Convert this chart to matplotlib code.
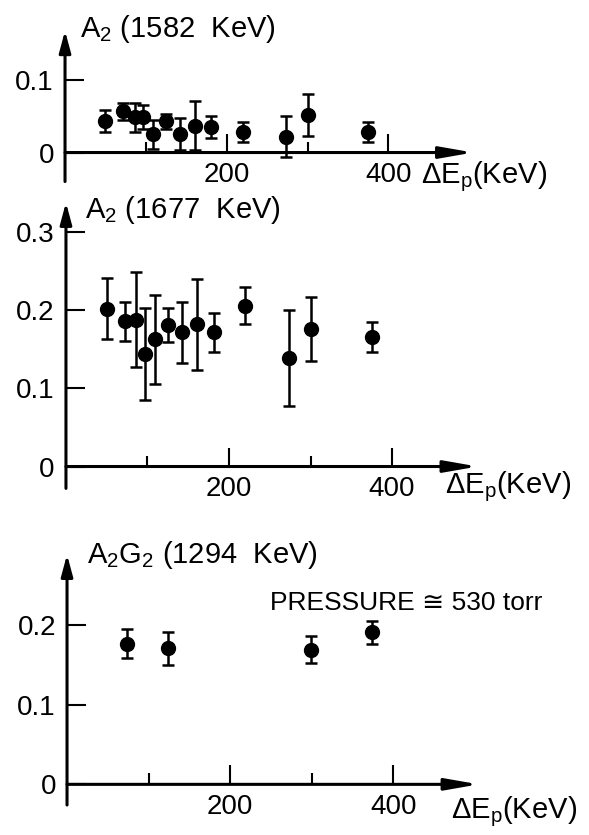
import matplotlib
matplotlib.use('Agg')
import matplotlib.pyplot as plt

plt.rcParams['font.family'] = ['Liberation Sans', 'DejaVu Sans']

# proton energy loss (keV), shared by the top two panels
dEp = [50, 72, 86, 97, 109, 125, 142, 161, 181, 220, 274, 301, 375]

# A2 (1582 keV)
a2_1582 = [0.044, 0.057, 0.049, 0.049, 0.025, 0.043, 0.026, 0.037, 0.035, 0.028, 0.022, 0.052, 0.028]
a2_1582_err = [0.015, 0.012, 0.020, 0.017, 0.020, 0.010, 0.022, 0.034, 0.015, 0.014, 0.028, 0.029, 0.014]

# A2 (1677 keV)
a2_1677 = [0.202, 0.186, 0.188, 0.144, 0.163, 0.181, 0.172, 0.182, 0.172, 0.206, 0.139, 0.176, 0.166]
a2_1677_err = [0.039, 0.025, 0.061, 0.059, 0.057, 0.022, 0.039, 0.058, 0.025, 0.024, 0.062, 0.041, 0.019]

# A2G2 (1294 keV)
dEp_1294 = [74, 124, 299, 374]
a2g2_1294 = [0.177, 0.171, 0.169, 0.191]
a2g2_1294_err = [0.018, 0.021, 0.017, 0.015]

xmax = 505

fig = plt.figure(figsize=(5.89, 8.35), dpi=100)

# [left, bottom, width, height], ylim, yticks, title, title pos, xlabel pos
panels = [
    dict(rect=[0.1104, 0.7826, 0.693, 0.1806], ylim=(-0.04, 0.168),
         yticks=[0, 0.1], ylabels=['0', '0.1'],
         x=dEp, y=a2_1582, err=a2_1582_err,
         title=r'A$\mathregular{_2}$ (1582  KeV)', tpos=(19, 0.159),
         lpos=(441, -0.042)),
    dict(rect=[0.112, 0.4151, 0.699, 0.3424], ylim=(-0.028, 0.338),
         yticks=[0, 0.1, 0.2, 0.3], ylabels=['0', '0.1', '0.2', '0.3'],
         x=dEp, y=a2_1677, err=a2_1677_err,
         title=r'A$\mathregular{_2}$ (1677  KeV)', tpos=(23, 0.318),
         lpos=(465, -0.034)),
    dict(rect=[0.1138, 0.0359, 0.699, 0.300], ylim=(-0.026, 0.289),
         yticks=[0, 0.1, 0.2], ylabels=['0', '0.1', '0.2'],
         x=dEp_1294, y=a2g2_1294, err=a2g2_1294_err,
         title=r'A$\mathregular{_2}$G$\mathregular{_2}$ (1294  KeV)', tpos=(24, 0.278),
         lpos=(471, -0.042)),
]

for p in panels:
    ax = fig.add_axes(p['rect'])
    ax.set_xlim(0, xmax)
    ax.set_ylim(*p['ylim'])
    ax.patch.set_visible(False)
    for s in ['top', 'right', 'left', 'bottom']:
        ax.spines[s].set_visible(False)
    ax.spines['bottom'].set_position(('data', 0))
    ax.spines['left'].set_position(('data', 0))

    # axes drawn as arrows
    ax.annotate('', xy=(xmax, 0), xytext=(0, 0), annotation_clip=False,
                arrowprops=dict(arrowstyle='-|>,head_length=2.0,head_width=0.35',
                                mutation_scale=10, lw=2.2, color='black',
                                shrinkA=0, shrinkB=0))
    ax.annotate('', xy=(0, p['ylim'][1]), xytext=(0, p['ylim'][0]), annotation_clip=False,
                arrowprops=dict(arrowstyle='-|>,head_length=1.3,head_width=0.35',
                                mutation_scale=10, lw=2.2, color='black',
                                shrinkA=0, shrinkB=0))

    ax.set_xticks([200, 400])
    ax.set_xticklabels(['200', '400'])
    ax.set_xticks([100, 300], minor=True)
    ax.set_yticks(p['yticks'])
    ax.set_yticklabels(p['ylabels'])
    ax.tick_params(axis='x', which='major', direction='in', length=14, width=1.5,
                   pad=7, labelsize=20)
    ax.tick_params(axis='x', which='minor', direction='in', length=8, width=1.5)
    ax.tick_params(axis='y', direction='in', length=13.5, width=1.5, pad=8, labelsize=20)

    ax.errorbar(p['x'], p['y'], yerr=p['err'], fmt='o', color='black', ms=10,
                elinewidth=1.8, capsize=4, capthick=1.8, clip_on=False, zorder=3)

    ax.text(p['tpos'][0], p['tpos'][1], p['title'], fontsize=21,
            ha='left', va='baseline')
    ax.text(p['lpos'][0], p['lpos'][1], r'ΔE$\mathregular{_p}$(KeV)', fontsize=21,
            ha='left', va='baseline')

fig.axes[2].text(249, 0.219, 'PRESSURE ≅ 530 torr', fontsize=19,
                 ha='left', va='baseline')

fig.savefig('out.png', dpi=100)
